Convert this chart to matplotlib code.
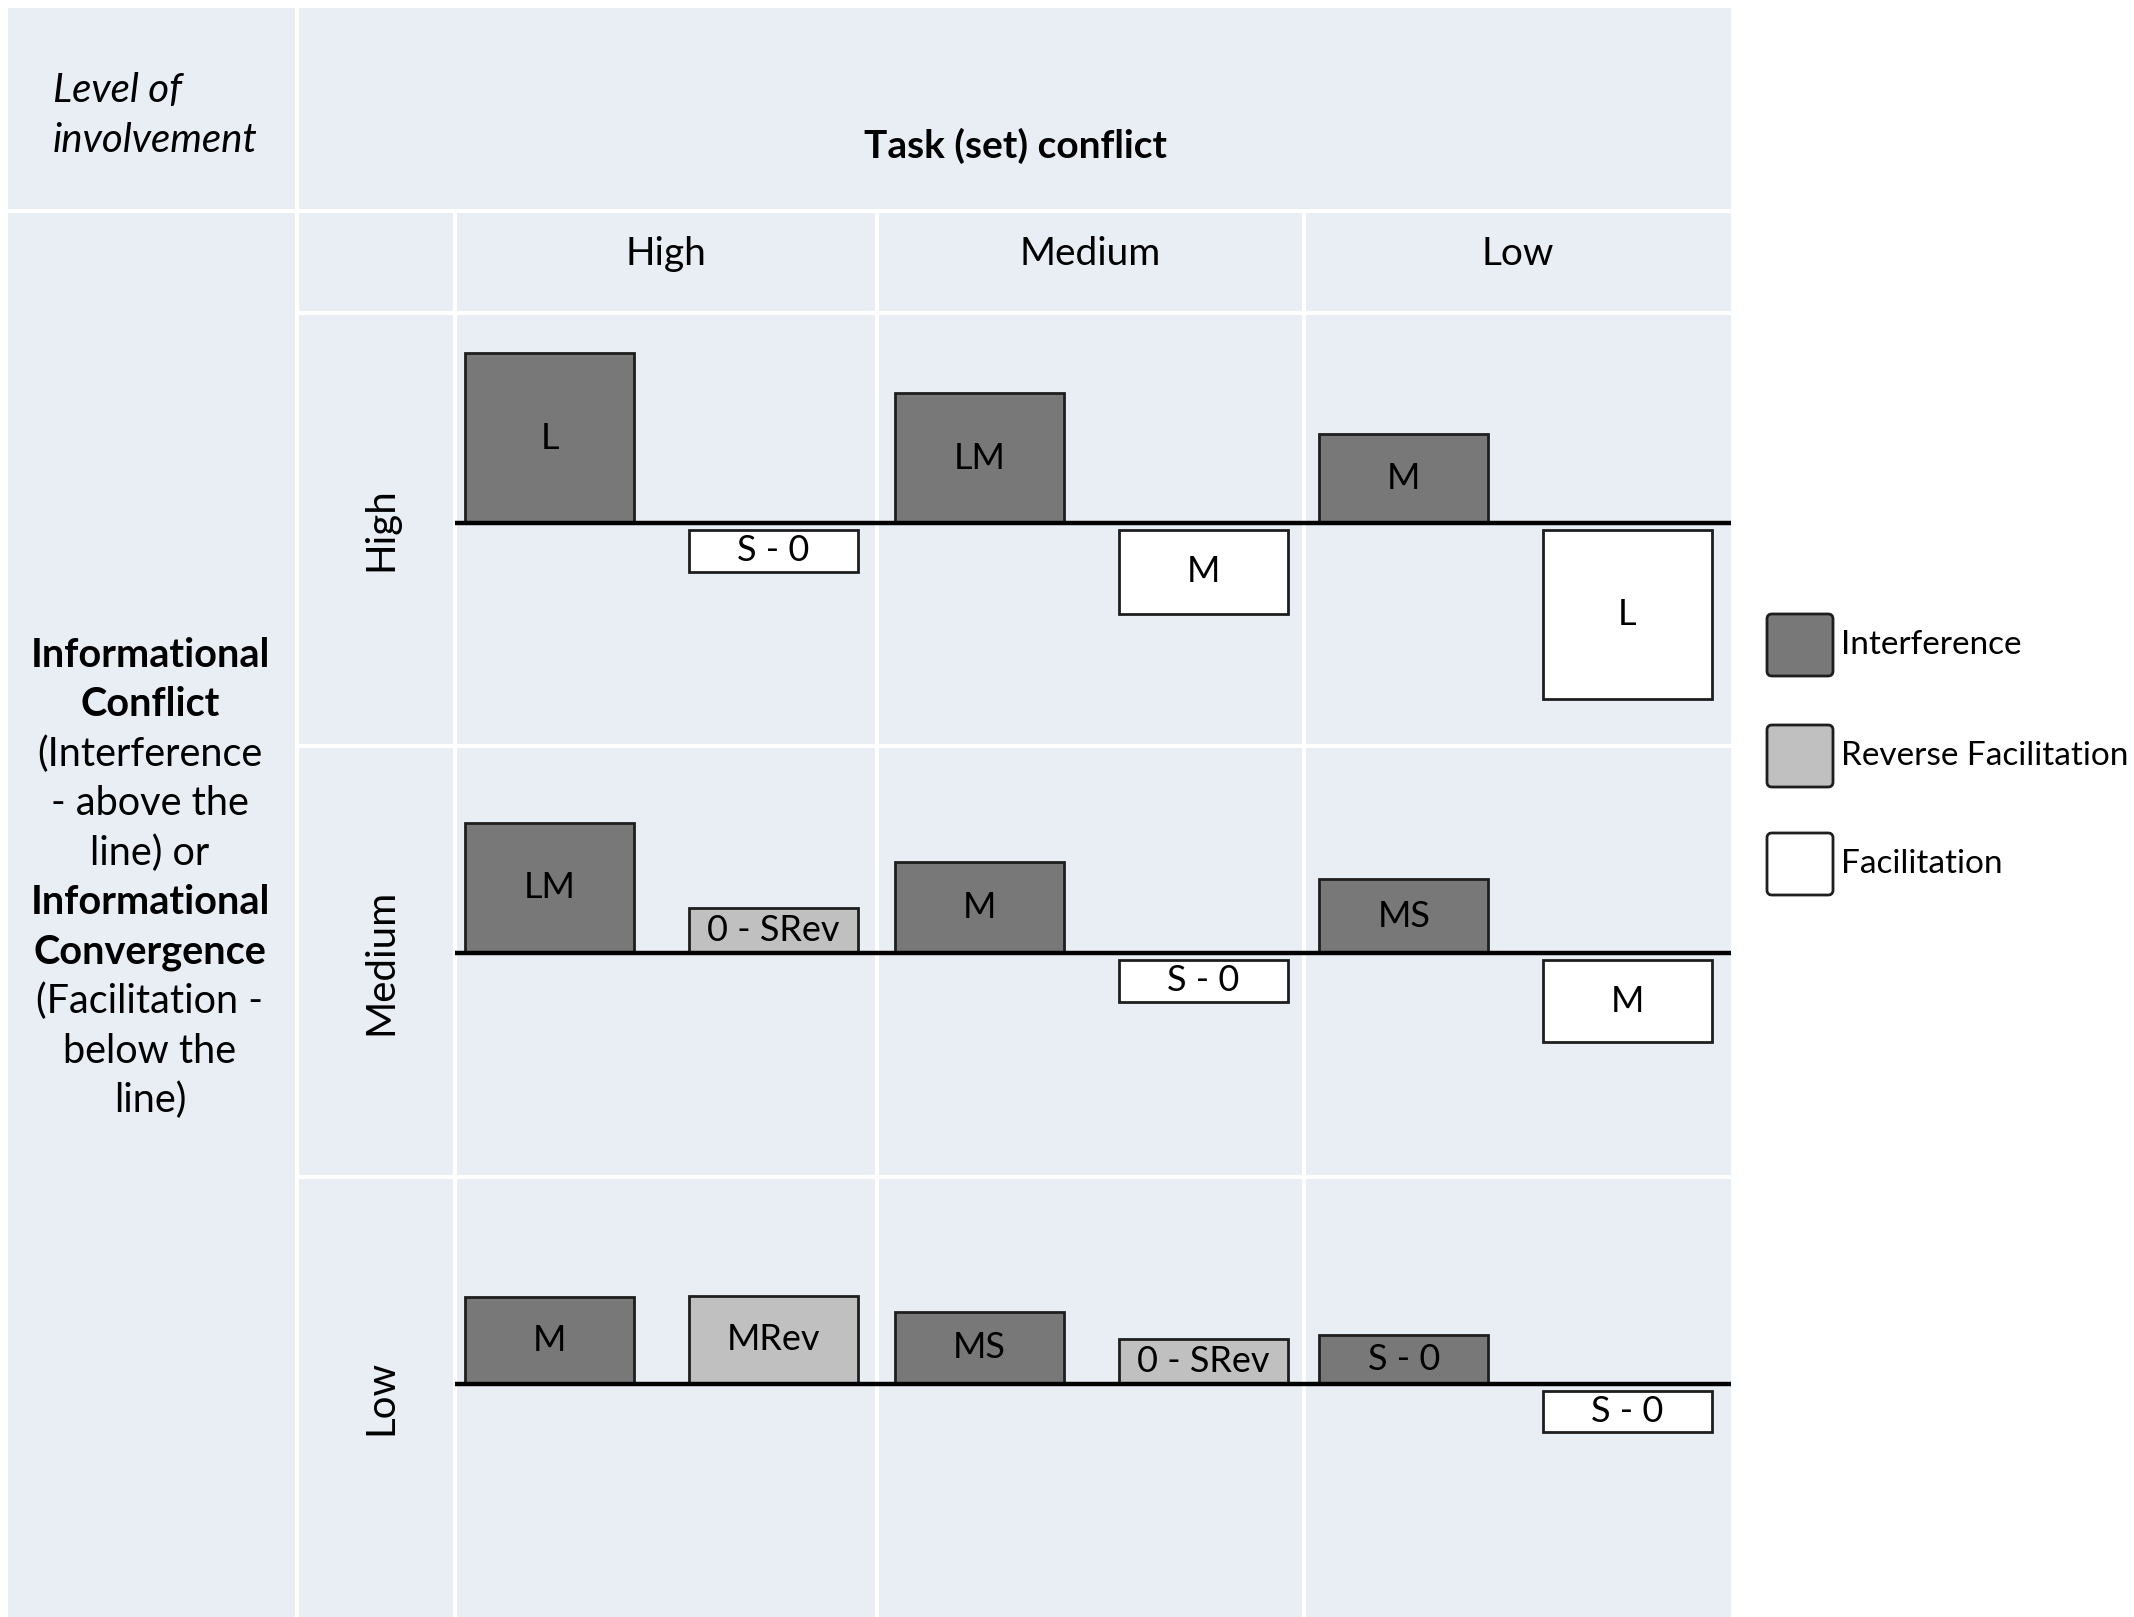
import matplotlib
matplotlib.use("Agg")
import matplotlib.pyplot as plt
from matplotlib.patches import Rectangle, FancyBboxPatch

# ---------------- data ----------------
task_levels = ["High", "Medium", "Low"]            # columns: Task (set) conflict
involvement_levels = ["High", "Medium", "Low"]     # rows: level of involvement

# first bar of each cell = Interference (above the line)
interference_values = [[4.0, 3.05, 2.1],
                       [3.07, 2.14, 1.73],
                       [2.05, 1.7, 1.15]]
interference_labels = [["L", "LM", "M"],
                       ["LM", "M", "MS"],
                       ["M", "MS", "S - 0"]]
# second bar of each cell: positive = reverse facilitation (above), negative = facilitation (below)
second_values = [[-1.15, -2.14, -4.13],
                 [1.06, -1.15, -2.1],
                 [2.08, 1.06, -1.12]]
second_labels = [["S - 0", "M", "L"],
                 ["0 - SRev", "S - 0", "M"],
                 ["MRev", "0 - SRev", "S - 0"]]
second_kinds = [["Facilitation", "Facilitation", "Facilitation"],
                ["Reverse Facilitation", "Facilitation", "Facilitation"],
                ["Reverse Facilitation", "Reverse Facilitation", "Facilitation"]]
legend_labels = ["Interference", "Reverse Facilitation", "Facilitation"]

left_lines = [("Informational", "bold"), ("Conflict", "bold"),
              ("(Interference", "normal"), ("- above the", "normal"),
              ("line) or", "normal"), ("Informational", "bold"),
              ("Convergence", "bold"), ("(Facilitation -", "normal"),
              ("below the", "normal"), ("line)", "normal")]

# ---------------- style / layout ----------------
W, H, DPI = 2134, 1617, 100
FONT = ["Lato", "DejaVu Sans"]
plt.rcParams["font.family"] = FONT
colors = {"Interference": "#787878", "Reverse Facilitation": "#c0c0c0", "Facilitation": "#ffffff"}
PANEL = "#e9edf4"
EDGE = "#1e1e1e"

col_edges = [455, 877, 1304, 1731]
row_edges = [313, 746, 1177, 1617]
baselines = [523, 953, 1384]
# relative centres of the two bars within each column
bar_centres = [(0.224, 0.754), (0.240, 0.764), (0.234, 0.757)]
BAR_PX = 169
UNIT = 42.5  # px per value unit
GAP = 0.16

fig = plt.figure(figsize=(W / DPI, H / DPI), dpi=DPI)
fig.patch.set_facecolor("white")

bg = fig.add_axes([0, 0, 1, 1], zorder=0)
bg.set_xlim(0, W)
bg.set_ylim(H, 0)
bg.axis("off")

# panel
bg.add_patch(Rectangle((8, 8), 1731 - 8, H - 8, facecolor=PANEL, edgecolor="none"))
lw_white = 3.0
bg.plot([8, 1731], [211, 211], color="white", lw=lw_white)
bg.plot([297, 297], [8, H], color="white", lw=lw_white)
bg.plot([297, 1731], [313, 313], color="white", lw=lw_white)
for x in col_edges[:-1]:
    bg.plot([x, x], [211, H], color="white", lw=lw_white)
for y in row_edges[1:-1]:
    bg.plot([297, 1731], [y, y], color="white", lw=lw_white)

# header texts
bg.text(53, 91, "Level of", fontsize=29, style="italic", ha="left", va="center")
bg.text(53, 140, "involvement", fontsize=29, style="italic", ha="left", va="center")
bg.text(1015, 146, "Task (set) conflict", fontsize=28, weight="bold", ha="center", va="center")
for j, name in enumerate(task_levels):
    bg.text((col_edges[j] + col_edges[j + 1]) / 2, 254, name, fontsize=28, ha="center", va="center")
for i, name in enumerate(involvement_levels):
    bg.text(381, (row_edges[i] + row_edges[i + 1]) / 2, name, fontsize=29,
            rotation=90, ha="center", va="center")
for k, (txt, wt) in enumerate(left_lines):
    bg.text(150, 655 + 49.5 * k, txt, fontsize=28.5, weight=wt, ha="center", va="center")

# legend
leg_y = [645, 756, 864]
for lab, yc in zip(legend_labels, leg_y):
    bg.add_patch(FancyBboxPatch((1767, yc - 31), 66, 62, boxstyle="round,pad=0,rounding_size=5",
                                facecolor=colors[lab], edgecolor=EDGE, lw=2))
    bg.text(1841, yc, lab, fontsize=24, ha="left", va="center")

# cells
for i in range(3):
    for j in range(3):
        x0, x1 = col_edges[j], col_edges[j + 1]
        y0, y1 = row_edges[i], row_edges[i + 1]
        c0, c1 = bar_centres[j]
        unit_x = c1 - c0
        ax = fig.add_axes([x0 / W, 1 - y1 / H, (x1 - x0) / W, (y1 - y0) / H], zorder=2)
        ax.set_xlim(-c0 / unit_x, (1 - c0) / unit_x)
        ax.set_ylim(-(y1 - baselines[i]) / UNIT, (baselines[i] - y0) / UNIT)
        ax.axis("off")
        width = BAR_PX / (x1 - x0) / unit_x
        # interference
        v = interference_values[i][j]
        ax.bar(0, v, width=width, color=colors["Interference"], edgecolor=EDGE, lw=2.0, zorder=2)
        ax.text(0, v / 2, interference_labels[i][j], fontsize=26, ha="center", va="center", zorder=4)
        # second bar
        v2 = second_values[i][j]
        kind = second_kinds[i][j]
        if v2 < 0:
            ax.bar(1, v2 + GAP, bottom=-GAP, width=width, color=colors[kind], edgecolor=EDGE, lw=2.0, zorder=2)
            ymid = (v2 - GAP) / 2
        else:
            ax.bar(1, v2, width=width, color=colors[kind], edgecolor=EDGE, lw=2.0, zorder=2)
            ymid = v2 / 2
        ax.text(1, ymid, second_labels[i][j], fontsize=26, ha="center", va="center", zorder=4)
        ax.axhline(0, xmin=0.0, xmax=0.995, color="black", lw=3.2, zorder=3)

fig.savefig("out.png", dpi=DPI, facecolor="white")
